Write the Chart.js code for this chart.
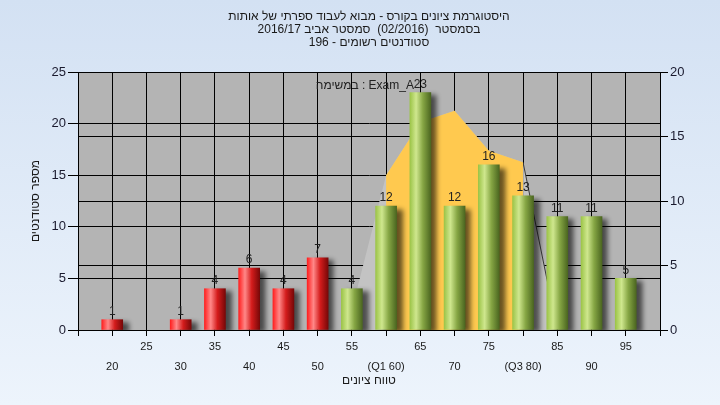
<!DOCTYPE html>
<html><head><meta charset="utf-8">
<script src="https://cdn.jsdelivr.net/npm/chart.js@4/dist/chart.umd.min.js"></script>
<style>
html,body{margin:0;padding:0;}
body{width:720px;height:405px;overflow:hidden;background:linear-gradient(#d3e1f3,#edf4fc);}
#wrap{position:relative;width:720px;height:405px;}
canvas{display:block;}
</style></head><body>
<div id="wrap"><canvas id="histo" width="720" height="405"></canvas></div>
<script>
// Grade histogram

const grades=[20,25,30,35,40,45,50,55,60,65,70,75,80,85,90,95];
const counts=[1,0,1,4,6,4,7,4,12,23,12,16,13,11,11,5];
const gradeLabels=['20','25','30','35','40','45','50','55','(Q1 60)','65','70','75','(Q3 80)','85','90','95'];
const curveGrades=[55,60,65,70,75,80,85];
const curveValues=[1.6,12,16.1,17,13.9,13,0];
const leftTicks=[0,25];
const rightTicks=[0,20];
const titleLines=['היסטוגרמת ציונים בקורס - מבוא לעבוד ספרתי של אותות','בסמסטר  (02/2016)  סמסטר אביב 2016/17','סטודנטים רשומים - 196'];
const taskLabel='במשימה : Exam_A';
const yTitle='מספר סטודנטים';
const xTitle='טווח ציונים';
const PASS=55, Q1=60, Q3=80;

const FONT="'Liberation Sans', Arial, 'DejaVu Sans', sans-serif";
const BAR_W=21;

function barFill(c){
  const ch=c.chart;
  if(!ch.chartArea || !counts[c.dataIndex]) return 'rgba(0,0,0,0)';
  const g0=grades[c.dataIndex];
  const x=ch.scales.x.getPixelForValue(g0);
  const g=ch.ctx.createLinearGradient(x-BAR_W/2,0,x+BAR_W/2,0);
  if(g0>=PASS){
    g.addColorStop(0,'#9cc448');g.addColorStop(0.3,'#cfe78e');g.addColorStop(0.62,'#86a644');g.addColorStop(1,'#4b6620');
  }else{
    g.addColorStop(0,'#ff2020');g.addColorStop(0.3,'#ff8888');g.addColorStop(0.62,'#d41c1c');g.addColorStop(1,'#780808');
  }
  return g;
}

const plotBg={id:'plotBg',beforeDraw(ch){
  const a=ch.chartArea,c=ch.ctx;
  c.save();c.fillStyle='#b4b4b4';c.fillRect(a.left,a.top,a.right-a.left,a.bottom-a.top);c.restore();
}};

const barShadow={id:'barShadow',
  beforeDatasetDraw(ch,a){
    if(a.index!==0) return;
    const c=ch.ctx;c.save();
    c.shadowColor='rgba(0,0,0,0.6)';c.shadowBlur=5;c.shadowOffsetX=6;c.shadowOffsetY=3;
  },
  afterDatasetDraw(ch,a){ if(a.index===0) ch.ctx.restore(); }
};

const barValues={id:'barValues',afterDatasetsDraw(ch){
  const c=ch.ctx,meta=ch.getDatasetMeta(0);
  c.save();
  c.font='12px '+FONT;c.fillStyle='#222';c.textAlign='center';c.textBaseline='bottom';
  meta.data.forEach((bar,i)=>{ if(counts[i]) c.fillText(String(counts[i]),bar.x,bar.y-2); });
  c.fillText(taskLabel,ch.scales.x.getPixelForValue(56.9),92);
  c.restore();
}};

const curvePts=curveGrades.map((g,i)=>({x:g,y:curveValues[i]}));
const iqrPts=curvePts.filter(p=>p.x>=Q1&&p.x<=Q3);

new Chart(document.getElementById('histo'),{
  type:'bar',
  data:{datasets:[
    {type:'bar',data:grades.map((g,i)=>({x:g,y:counts[i]})),yAxisID:'y',order:0,
      backgroundColor:barFill,barThickness:BAR_W,borderWidth:0},
    {type:'line',data:iqrPts,yAxisID:'y2',order:1,fill:'origin',backgroundColor:'#ffc94f',
      borderWidth:0,borderColor:'rgba(0,0,0,0)',pointRadius:0,tension:0},
    {type:'line',data:curvePts,yAxisID:'y2',order:2,fill:'origin',backgroundColor:'#c3c3c3',
      borderWidth:1,pointRadius:0,tension:0,
      segment:{borderColor:s=>curveGrades[s.p0DataIndex]===Q3?'#3a3a3a':'rgba(0,0,0,0)'}}
  ]},
  options:{
    responsive:false,animation:false,
    layout:{padding:0},
    plugins:{
      legend:{display:false},tooltip:{enabled:false},
      title:{display:true,text:titleLines,fullSize:false,color:'#1a1a1a',
        font:{family:FONT,size:12,weight:'normal',lineHeight:'13px'},padding:{top:10,bottom:23}}
    },
    scales:{
      x:{type:'linear',min:15,max:100,offset:false,
        afterFit:s=>{s.height=75;},
        grid:{color:'#000',lineWidth:1,tickLength:6,offset:false},
        border:{color:'#000',width:1},
        ticks:{stepSize:5,autoSkip:false,maxRotation:0,padding:1,color:'#1a1a1a',
          font:{family:FONT,size:11,lineHeight:'20px'},
          callback:v=>{const i=grades.indexOf(v);if(i<0) return '';return i%2?gradeLabels[i]:['',gradeLabels[i]];}},
        title:{display:true,text:xTitle,color:'#1a1a1a',font:{family:FONT,size:12},padding:{top:0,bottom:17}}
      },
      y:{position:'left',min:leftTicks[0],max:leftTicks[1],
        afterFit:s=>{s.width=78;},
        grid:{color:'#000',lineWidth:1,tickLength:10},
        border:{color:'#000',width:1},
        ticks:{stepSize:5,padding:2,color:'#1a1a2e',font:{family:FONT,size:13}},
        title:{display:true,text:yTitle,color:'#1a1a1a',font:{family:FONT,size:12},padding:{top:28,bottom:0}}
      },
      y2:{position:'right',min:rightTicks[0],max:rightTicks[1],
        afterFit:s=>{s.width=60;},
        grid:{color:'#000',lineWidth:1,tickLength:8},
        border:{color:'#000',width:1},
        ticks:{stepSize:5,padding:2,color:'#1a1a2e',font:{family:FONT,size:13}}
      }
    }
  },
  plugins:[plotBg,barShadow,barValues]
});
</script>
</body></html>
